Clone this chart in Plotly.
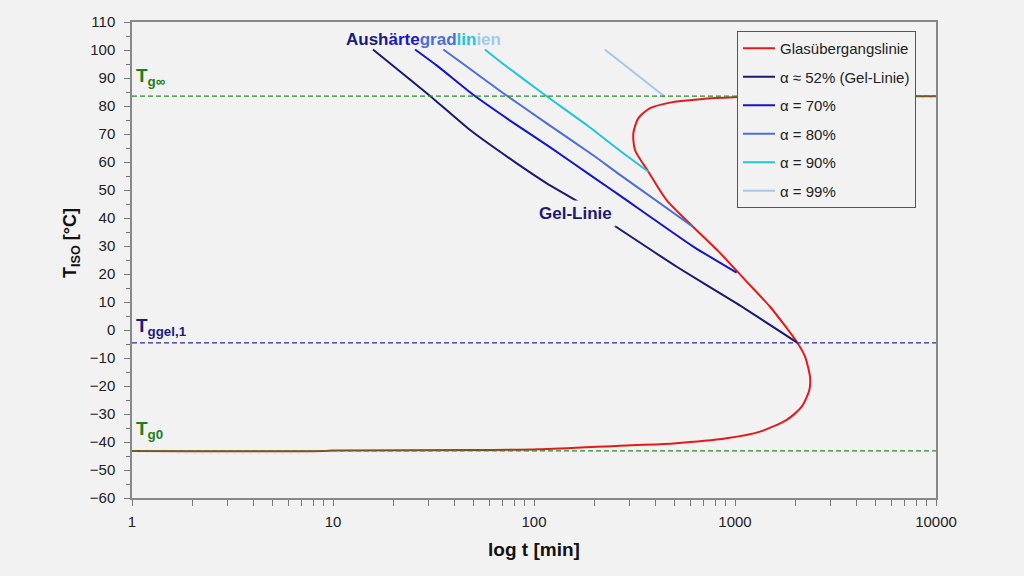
import math
import plotly.graph_objects as go

# ---------------- data ----------------
glass_t = [1, 9, 10, 50, 106, 268, 493, 908, 1331, 1808, 2148, 2344, 2361, 2230, 2028,
           1494, 1122, 830, 618, 457, 371, 318, 312, 330, 378, 475, 670, 982,
           2000, 10000]
glass_T = [-43.2, -43.2, -43.0, -42.9, -42.6, -41.3, -40.5, -38.7, -36.3, -32.1, -27.4,
           -21.4, -16.7, -9.5, -4.2, 8.3, 17.9, 28.0, 36.9, 46.4, 56.5, 64.3, 70.2,
           75.6, 79.2, 81.2, 82.4, 83.1, 83.5, 83.5]

gel_t = [15.8, 30.4, 48.1, 82.1, 115.7, 166, 248, 513, 1019, 2030]
gel_T = [100.2, 83.6, 71.4, 59.5, 52.4, 45.8, 37.5, 22.6, 9.5, -4.4]

a70_t = [25.6, 32.8, 49.9, 76, 120, 197, 268, 620, 1019]
a70_T = [100.2, 94.5, 84.0, 74.8, 65.3, 54.6, 48.0, 29.8, 20.5]

a80_t = [35.4, 44.5, 69, 115.7, 197, 268, 620]
a80_T = [100.2, 95.0, 85.0, 73.8, 62.4, 55.4, 36.8]

a90_t = [57, 70.3, 113, 183, 268, 371]
a90_T = [100.2, 95.0, 84.0, 73.2, 64.0, 56.5]

a99_t = [225, 448]
a99_T = [100.2, 83.3]

Tg_inf = 83.5
Tg_gel = -4.6
Tg_0 = -43.2
t_range = [1, 10000]

x_major = [1, 10, 100, 1000, 10000]
x_minor = [m * d for d in (1, 10, 100, 1000) for m in range(2, 10)]

series_names = ["Glasübergangslinie", "α ≈ 52% (Gel-Linie)", "α = 70%", "α = 80%",
                "α = 90%", "α = 99%"]

# ---------------- style ----------------
BG = "#f2f2f2"
RED = "#e41a1a"
NAVY = "#1a1a72"
BLUE = "#1414cc"
ROYAL = "#4a6fd8"
CYAN = "#22c4dc"
LIGHT = "#a6c8e8"
GREEN = "#2a8a2a"
FONT = "Liberation Sans, Arial, sans-serif"

fig = go.Figure()

series = [
    (glass_t, glass_T, RED, series_names[0], 0.7),
    (gel_t, gel_T, NAVY, series_names[1], 0.5),
    (a70_t, a70_T, BLUE, series_names[2], 0.5),
    (a80_t, a80_T, ROYAL, series_names[3], 0.5),
    (a90_t, a90_T, CYAN, series_names[4], 0.5),
    (a99_t, a99_T, LIGHT, series_names[5], 0.5),
]
for i, (xs, ys, col, name, sm) in enumerate(series):
    fig.add_trace(go.Scatter(
        x=xs, y=ys, mode="lines", name=name, legendgroup=f"g{i}",
        line=dict(color=col, width=2, shape="spline", smoothing=sm),
        hoverinfo="skip"))

for val, col in [(Tg_inf, GREEN), (Tg_gel, "#2a2aa0"), (Tg_0, GREEN)]:
    fig.add_trace(go.Scatter(
        x=t_range, y=[val, val], mode="lines", showlegend=False,
        line=dict(color=col, width=1.3, dash="5px,3px"), hoverinfo="skip"))

# ---------------- annotations ----------------
ann = []
ann.append(dict(xref="paper", yref="y", x=0.003, y=Tg_inf, yshift=5,
                xanchor="left", yanchor="bottom", showarrow=False,
                text="T<sub>g∞</sub>", font=dict(size=19, color="#1a801a", family=FONT, weight="bold")))
ann.append(dict(xref="paper", yref="y", x=0.003, y=Tg_gel, yshift=2,
                xanchor="left", yanchor="bottom", showarrow=False,
                text="T<sub>ggel,1</sub>", font=dict(size=19, color="#1c1c80", family=FONT, weight="bold")))
ann.append(dict(xref="paper", yref="y", x=0.003, y=Tg_0, yshift=7,
                xanchor="left", yanchor="bottom", showarrow=False,
                text="T<sub>g0</sub>", font=dict(size=19, color="#1a801a", family=FONT, weight="bold")))
ann.append(dict(xref="paper", yref="paper", x=0.363, y=0.964, showarrow=False,
                xanchor="center", yanchor="middle",
                text=("<span style='color:#1a1a80'>Aush</span>"
                      "<span style='color:#1818c8'>ärte</span>"
                      "<span style='color:#4a6fd8'>grad</span>"
                      "<span style='color:#22c4dc'>lin</span>"
                      "<span style='color:#a6c8e8'>ien</span>"),
                font=dict(size=17, family=FONT, weight="bold")))
ann.append(dict(xref="paper", yref="paper", x=0.551, y=0.597, showarrow=False,
                xanchor="center", yanchor="middle", bgcolor=BG, borderpad=3,
                text="Gel-Linie", font=dict(size=17, color=NAVY, family=FONT, weight="bold")))
ann.append(dict(xref="paper", yref="paper", x=-0.0746, y=0.536, showarrow=False,
                xanchor="center", yanchor="middle", textangle=-90,
                text="T<sub>ISO</sub> [°C]", font=dict(size=18, color="#111", family=FONT, weight="bold")))

fig.update_layout(
    width=1024, height=576,
    paper_bgcolor=BG, plot_bgcolor=BG,
    margin=dict(l=132, r=88, t=22, b=78),
    font=dict(family=FONT, size=15, color="#222"),
    annotations=ann,
    showlegend=True,
    legend=dict(x=0.7525, y=0.981, xanchor="left", yanchor="top",
                bgcolor=BG, bordercolor="#555", borderwidth=1,
                font=dict(size=15, family=FONT, color="#222"),
                itemwidth=32, tracegroupgap=6, traceorder="grouped",
                entrywidth=165, entrywidthmode="pixels"),
)

fig.update_xaxes(
    type="log", range=[math.log10(t_range[0]), math.log10(t_range[1])],
    tickvals=x_major, ticktext=[str(v) for v in x_major],
    ticks="outside", ticklen=6, tickcolor="#777", showgrid=False, zeroline=False,
    showline=True, linecolor="#888", linewidth=1.5, mirror=True,
    minor=dict(ticks="outside", ticklen=6, tickcolor="#777", showgrid=False, tickvals=x_minor),
    ticklabelstandoff=3,
    title=dict(text="log t [min]", font=dict(size=19, family=FONT, weight="bold", color="#111"),
               standoff=14),
)
fig.update_yaxes(
    range=[-60, 110], dtick=10, tick0=0,
    ticks="outside", ticklen=6, tickcolor="#777", showgrid=False, zeroline=False,
    showline=True, linecolor="#888", linewidth=1.5, mirror=True,
    minor=dict(ticks="outside", ticklen=4, dtick=5, tickcolor="#777", showgrid=False),
    ticklabelstandoff=6,
)

fig.write_html("out.html", config={"displayModeBar": False},
               post_script="document.body.style.margin='0';document.body.style.background='#f2f2f2';")
